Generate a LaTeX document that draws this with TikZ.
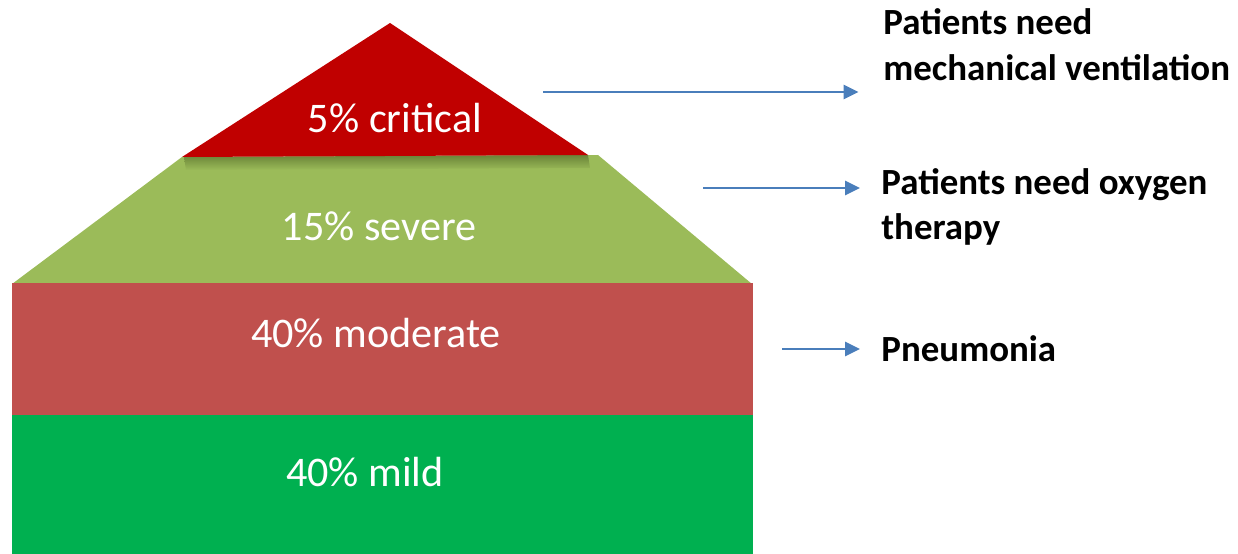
\documentclass[tikz,border=0pt]{standalone}
\usepackage{fontspec}
\setmainfont{Carlito}
\usepackage{xcolor}
\usetikzlibrary{positioning,arrows.meta}

\definecolor{critred}{HTML}{C00000}
\definecolor{sevgreen}{HTML}{9BBB59}
\definecolor{sevshadow}{HTML}{6A8438}
\definecolor{modred}{HTML}{C0504D}
\definecolor{mildgreen}{HTML}{00B050}
\definecolor{arrowblue}{HTML}{4A7EBB}

\begin{document}
\begin{tikzpicture}[x=0.02cm, y=-0.02cm,
    level/.style={text=white, font=\fontsize{24}{29}\selectfont},
    note/.style={anchor=west, align=left, inner xsep=12pt, inner ysep=0pt, font=\bfseries\fontsize{21}{26}\selectfont},
    arrow/.style={-{Triangle[length=8.5pt, width=8pt]}, line width=1.6pt, draw=arrowblue}]

    \useasboundingbox (0,0) rectangle (1238,554);

    % pyramid layers
    \fill[mildgreen] (12,415) rectangle (753,554);
    \fill[sevgreen] (182,157) -- (598,155) -- (752,284) -- (12,284) -- cycle;
    \fill[modred] (12,283) rectangle (753,415);
    \shade[top color=sevshadow, bottom color=sevgreen] (184,157) -- (588,155) -- (590,168) -- (186,170) -- cycle;
    \fill[critred] (182,157) -- (390,23) -- (588,155) -- cycle;

    % labels
    \node[level] (critical) at (395,118) {5\% critical};
    \node[level] (severe) at (379,226) {15\% severe};
    \node[level] (moderate) at (376,333) {40\% moderate};
    \node[level] (mild) at (365,472) {40\% mild};

    % notes on the right
    \node[note] (ventilation) at (862,45) {Patients need\\mechanical ventilation};
    \node[note] (oxygen) at (860,207) {Patients need oxygen\\therapy};
    \node[note] (pneumonia) at (860,349) {Pneumonia};

    \coordinate (critstart) at (543,92);
    \coordinate (sevstart) at (703,188);
    \coordinate (modstart) at (782,349);

    \draw[arrow] (critstart) -- ([xshift=-2pt]critstart -| ventilation.west);
    \draw[arrow] (sevstart) -- (sevstart -| oxygen.west);
    \draw[arrow] (modstart) -- (pneumonia.west);
\end{tikzpicture}
\end{document}
